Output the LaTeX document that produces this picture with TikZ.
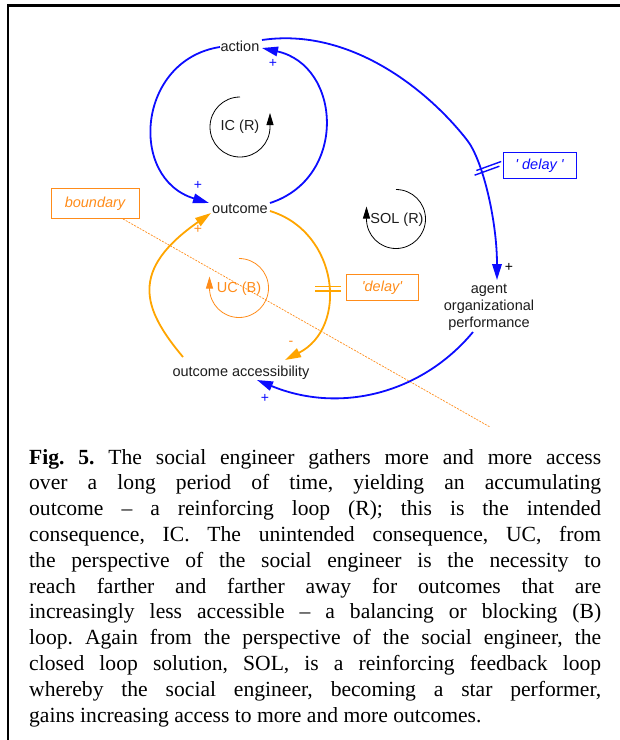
\documentclass[tikz,border=0pt]{standalone}
\usepackage{fontspec}
\setmainfont{Liberation Serif}
\newfontfamily\diagfont{Liberation Sans}
\usetikzlibrary{arrows.meta}
\definecolor{cldblue}{RGB}{12,12,255}
\definecolor{cldorange}{RGB}{255,165,0}
\definecolor{boxorange}{RGB}{255,140,26}
\definecolor{inkgray}{RGB}{28,28,28}
\newcommand\figline[1]{\hbox to 572pt{#1}}

\begin{document}
\begin{tikzpicture}[x=1pt,y=1pt,
  lbl/.style={font=\diagfont\fontsize{14.5}{16.7}\selectfont, text=inkgray, inner sep=0pt},
  pol/.style={font=\diagfont\fontsize{14}{16}\selectfont, inner sep=0pt},
  bluelink/.style={draw=cldblue, line width=1.8pt, -{Triangle[length=16pt,width=9.5pt]}},
  orangelink/.style={draw=cldorange, line width=1.8pt, -{Triangle[length=16pt,width=9.5pt]}},
  looparc/.style={line width=0.8pt, -{Triangle[length=12pt,width=7pt]}},
  tagbox/.style={draw, line width=0.9pt, inner sep=0pt, font=\diagfont\itshape\fontsize{14.5}{16}\selectfont},
  delaymark/.style={line width=1.4pt}
]
\useasboundingbox (0,0) rectangle (620,-740);

% page frame (top and left rules)
\draw[line width=2.2pt, black] (620,-5.5) -- (8.3,-5.5) -- (8.3,-740);

% variables
\node[lbl, anchor=base] (action) at (240,-51.7) {action};
\node[lbl, anchor=base] (outcome) at (240,-213) {outcome};
\node[lbl, anchor=base] (access) at (241,-376.7) {outcome accessibility};
\node[lbl, align=center, font=\diagfont\fontsize{14.5}{17}\selectfont] (agent) at (489,-307.5) {agent\\organizational\\performance};

% loop labels
\node[lbl] (icl) at (240,-127) {IC (R)};
\node[lbl] (soll) at (397,-220) {SOL (R)};
\node[lbl, text=boxorange] (ucl) at (239,-289) {UC (B)};

% loop direction markers
\draw[looparc, draw=black] (240,-97) arc[start angle=90, end angle=360, radius=30] -- ++(0,14);
\draw[looparc, draw=black] (396,-189.5) arc[start angle=90, end angle=-180, radius=29.5] -- ++(0,12.5);
\draw[looparc, draw=boxorange] (239,-258.5) arc[start angle=90, end angle=-180, radius=29.5] -- ++(0,11.5);

% annotation boxes
\node[tagbox, draw=boxorange, text=boxorange, minimum width=88pt, minimum height=30pt] (bound) at (95,-203.5) {boundary};
\node[tagbox, draw=boxorange, text=boxorange, minimum width=72pt, minimum height=26.5pt] (odelay) at (382,-287.5) {\textquotesingle delay\textquotesingle};
\node[tagbox, draw=cldblue, text=cldblue, minimum width=73pt, minimum height=26.5pt] (bdelay) at (539.5,-165.3) {\textquotesingle\ delay \textquotesingle};

% boundary line
\coordinate (boundend) at (490,-427);
\draw[boxorange, line width=0.7pt, dash pattern=on 2pt off 1.2pt] ([xshift=28pt]bound.south) -- (boundend);

% reinforcing loop IC
\draw[bluelink] ([shift={(-20,4.7)}]action.base) .. controls (137.2,-59.7) and (127.9,-178.4) .. ([shift={(-31,10)}]outcome.base);
\draw[bluelink] ([shift={(30,10)}]outcome.base) .. controls (347.7,-178) and (341.7,-65.6) .. ([shift={(22,3.7)}]action.base);

% balancing loop UC
\draw[orangelink] ([shift={(30,2)}]outcome.base) .. controls (338.7,-232) and (348.8,-327.2) .. ([shift={(44,16.7)}]access.base);
\draw[orangelink] ([shift={(-58,19.7)}]access.base) .. controls (142.1,-308.3) and (129.3,-270) .. ([shift={(-29,0)}]outcome.base);

% solution loop SOL
\draw[bluelink] ([shift={(22,11.7)}]action.base) .. controls (350,-27) and (428,-90) .. (467,-140)
  .. controls (482.5,-159.5) and (497,-220) .. ([shift={(8,27.5)}]agent.center);
\draw[bluelink] ([shift={(-16,-24.5)}]agent.center) .. controls (421.8,-393.6) and (339.8,-414.2) .. ([shift={(16,-3.3)}]access.base);

% delay marks
\draw[delaymark, cldblue] (474.6,-175.2) -- (499.4,-166.2);
\draw[delaymark, cldblue] (476.4,-170.5) -- (501.2,-161.5);
\draw[delaymark, cldorange] (315,-286.2) -- (341,-286.2);
\draw[delaymark, cldorange] (315,-290.8) -- (341,-290.8);

% link polarities
\node[pol, text=cldblue] (p1) at (273,-63) {+};
\node[pol, text=cldblue] (p2) at (198,-185) {+};
\node[pol, text=boxorange] (p3) at (198,-229) {+};
\node[pol, text=boxorange] (p4) at (291,-343) {-};
\node[pol, text=black] (p5) at (509,-267) {+};
\node[pol, text=cldblue] (p6) at (265,-398) {+};

% caption
\node[anchor=north west, inner sep=0pt] (caption) at (29,-449) {\vbox{%
  \fontsize{21.6}{25.8}\selectfont\frenchspacing
  \figline{\textbf{Fig. 5.} The social engineer gathers more and more access}
  \figline{over a long period of time, yielding an accumulating}
  \figline{outcome – a reinforcing loop (R); this is the intended}
  \figline{consequence, IC. The unintended consequence, UC, from}
  \figline{the perspective of the social engineer is the necessity to}
  \figline{reach farther and farther away for outcomes that are}
  \figline{increasingly less accessible – a balancing or blocking (B)}
  \figline{loop. Again from the perspective of the social engineer, the}
  \figline{closed loop solution, SOL, is a reinforcing feedback loop}
  \figline{whereby the social engineer, becoming a star performer,}
  \hbox{gains increasing access to more and more outcomes.}}};
\end{tikzpicture}
\end{document}
